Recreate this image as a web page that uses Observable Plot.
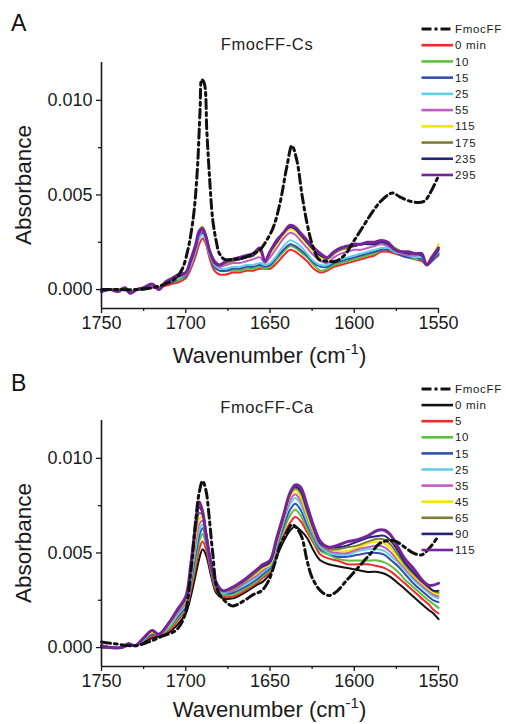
<!DOCTYPE html>
<html>
<head>
<meta charset="utf-8">
<script src="https://cdn.jsdelivr.net/npm/d3@7"></script>
<script src="https://cdn.jsdelivr.net/npm/@observablehq/plot@0.6"></script>
<style>
  html, body { margin: 0; padding: 0; background: #fff; }
  #wrap { width: 506px; }
  #wrap svg { display: block; }
</style>
</head>
<body>
<div id="wrap"></div>
<script>
// ---------------- data (absorbance values in units of 0.001) ----------------
const UNIT = 0.001;

const xMajorTicks = [1750, 1700, 1650, 1600, 1550];
const xMinorTicks = [1725, 1675, 1625, 1575];
const yMajorTicks = [0.000, 0.005, 0.010];
const yMinorTicks = [0.0025, 0.0075];

const xLabelMain = "Wavenumber (cm";
const xLabelSup = "-1";
const xLabelEnd = ")";
const yLabel = "Absorbance";

// ---- Panel A : FmocFF-Cs ----
const titleA = "FmocFF-Cs";
const tagA = "A";
const legendA = ["FmocFF", "0 min", "10", "15", "25", "55", "115", "175", "235", "295"];
const colorsA = ["#111111", "#f02a2a", "#5cbf3e", "#2f50b0", "#62cfe6", "#c25cc4", "#f2e600", "#7f7d35", "#25257e", "#74259a"];

const wDashA = [1750,1740,1730,1720,1712,1706,1702,1699,1697,1695,
                1693,1691.5,1690.5,1689,1687.5,1686,1684,1682,1680,1677,
                1672,1665,1660,1656,1652,1648,1644,1640,1637,1634,
                1631,1628,1625,1621,1616,1611,1606,1600,1595,1590,
                1585,1580,1577,1573,1568,1562,1558,1555,1550];
const vDashA = [0.0,0.0,0.0,0.1,0.3,0.6,1.1,2.0,2.9,4.2,
                6.5,9.5,11.1,10.9,8.4,6.1,3.7,2.6,1.9,1.6,
                1.6,1.7,1.9,2.1,2.6,3.3,4.6,6.5,7.6,6.8,
                5.0,3.5,2.4,1.6,1.5,1.5,1.8,2.6,3.3,4.0,
                4.6,5.0,5.1,4.9,4.7,4.6,4.7,5.1,6.0];

const wA = [1750,1745,1740,1736,1733,1729,1725,1720,1716,1712,
            1708,1704,1700,1697,1694,1692,1690,1688,1686,1683,
            1680,1676,1672,1668,1664,1660,1656,1653,1650,1646,
            1642,1638,1635,1632,1628,1624,1620,1616,1612,1608,
            1604,1600,1596,1592,1588,1584,1580,1576,1572,1568,
            1564,1560,1557,1554,1550];
const a0 = [-0.1,0.0,0.0,0.0,-0.1,0.0,0.0,0.1,0.1,0.2,
            0.3,0.4,0.6,1.1,1.8,2.4,2.7,2.4,1.7,1.0,
            0.8,0.8,0.9,0.9,1.0,1.0,1.1,1.1,1.1,1.4,
            1.8,2.1,2.0,1.8,1.5,1.1,0.9,1.0,1.2,1.3,
            1.4,1.5,1.6,1.7,1.8,2.0,2.0,1.9,1.8,1.7,
            1.6,1.5,1.3,1.5,1.8];
const a10 = [-0.1,0.0,0.0,0.0,-0.1,0.0,0.0,0.2,0.1,0.3,
             0.4,0.5,0.7,1.3,2.1,2.8,3.0,2.6,1.9,1.2,
             1.0,1.0,1.0,1.0,1.1,1.1,1.2,1.1,1.2,1.6,
             2.0,2.3,2.2,2.0,1.7,1.3,1.0,1.1,1.3,1.4,
             1.5,1.6,1.7,1.8,1.9,2.1,2.1,2.0,1.8,1.7,
             1.6,1.6,1.3,1.5,1.9];
const a15 = [-0.1,0.0,0.0,0.0,-0.2,0.0,0.0,0.2,0.0,0.3,
             0.4,0.6,0.7,1.3,2.1,2.8,3.0,2.6,1.9,1.2,
             1.0,1.0,1.1,1.1,1.2,1.2,1.3,1.2,1.3,1.7,
             2.1,2.4,2.3,2.1,1.8,1.4,1.2,1.2,1.4,1.5,
             1.6,1.7,1.8,1.9,2.0,2.1,2.1,2.0,1.8,1.7,
             1.7,1.6,1.3,1.5,1.9];
const a25 = [-0.1,0.0,0.0,0.0,-0.1,0.0,0.1,0.2,0.1,0.3,
             0.5,0.6,0.8,1.3,2.1,2.7,2.9,2.6,1.9,1.3,
             1.1,1.1,1.2,1.2,1.3,1.3,1.4,1.3,1.4,1.8,
             2.3,2.6,2.5,2.3,1.9,1.5,1.3,1.3,1.5,1.6,
             1.7,1.8,1.9,2.0,2.1,2.2,2.2,2.0,1.9,1.8,
             1.7,1.7,1.3,1.6,2.0];
const a55 = [-0.1,0.0,0.0,0.1,-0.1,0.0,0.1,0.2,0.1,0.3,
             0.5,0.7,0.8,1.4,2.2,2.9,3.1,2.7,2.0,1.4,
             1.2,1.3,1.4,1.4,1.5,1.6,1.7,1.4,1.7,2.2,
             2.7,3.0,2.9,2.6,2.2,1.8,1.5,1.4,1.7,1.9,
             2.0,2.1,2.1,2.2,2.3,2.4,2.3,2.1,1.9,1.8,
             1.8,1.8,1.3,1.6,2.1];
const a115 = [-0.1,0.0,0.0,0.1,-0.1,0.0,0.1,0.3,0.1,0.4,
              0.5,0.7,0.9,1.5,2.4,3.1,3.3,2.8,2.1,1.4,
              1.3,1.4,1.5,1.6,1.7,1.8,2.0,1.5,1.9,2.4,
              2.9,3.2,3.1,2.8,2.4,2.0,1.7,1.6,1.9,2.1,
              2.2,2.3,2.4,2.5,2.5,2.6,2.5,2.2,2.0,1.9,
              1.9,1.9,1.4,1.7,2.4];
const a175 = [-0.1,0.0,0.0,0.1,-0.1,0.0,0.1,0.3,0.1,0.4,
              0.5,0.7,0.9,1.5,2.4,3.1,3.3,2.8,2.1,1.4,
              1.3,1.4,1.5,1.6,1.7,1.8,2.1,1.5,2.0,2.5,
              3.0,3.3,3.2,2.9,2.5,2.1,1.8,1.6,1.9,2.1,
              2.2,2.3,2.4,2.5,2.5,2.6,2.5,2.2,2.0,1.9,
              1.9,1.8,1.3,1.6,2.2];
const a235 = [-0.1,0.0,-0.1,0.1,-0.2,0.0,0.1,0.3,0.0,0.4,
              0.6,0.7,0.9,1.5,2.3,3.0,3.2,2.8,2.1,1.4,
              1.3,1.5,1.6,1.6,1.7,1.8,2.1,1.5,2.0,2.5,
              3.0,3.3,3.2,2.9,2.5,2.1,1.8,1.7,2.0,2.2,
              2.3,2.3,2.4,2.4,2.4,2.5,2.4,2.1,2.0,1.9,
              1.9,1.8,1.3,1.6,2.1];
const a295 = [-0.1,0.0,-0.1,0.1,-0.2,0.0,0.1,0.3,0.0,0.4,
              0.6,0.8,0.9,1.6,2.4,3.1,3.2,2.8,2.1,1.5,
              1.3,1.5,1.6,1.7,1.8,1.9,2.2,1.5,2.0,2.6,
              3.0,3.4,3.3,3.0,2.6,2.2,1.9,1.7,2.0,2.2,
              2.3,2.4,2.4,2.5,2.5,2.6,2.5,2.1,2.0,2.0,
              1.9,1.9,1.3,1.7,2.2];
const seriesA = [a0, a10, a15, a25, a55, a115, a175, a235, a295];

// ---- Panel B : FmocFF-Ca ----
const titleB = "FmocFF-Ca";
const tagB = "B";
const legendB = ["FmocFF", "0 min", "5", "10", "15", "25", "35", "45", "65", "90", "115"];
const colorsB = ["#111111", "#111111", "#f02a2a", "#5cbf3e", "#2f50b0", "#62cfe6", "#c25cc4", "#f2e600", "#7f7d35", "#25257e", "#74259a"];

const wDashB = [1750,1742,1730,1722,1714,1706,1701,1697,1694,1692,
                1690,1688,1686,1684,1681,1676,1672,1665,1660,1655,
                1651,1647,1644,1640,1637,1634,1631,1628,1625,1620,
                1615,1610,1605,1600,1595,1590,1585,1580,1575,1570,
                1565,1560,1555,1550];
const vDashB = [0.3,0.2,0.1,0.3,0.6,0.9,1.6,4.0,6.8,8.2,
                8.8,8.3,6.8,5.0,3.0,2.4,2.2,2.5,2.8,3.0,
                3.5,4.5,5.4,6.1,6.5,6.3,5.8,4.6,3.7,3.0,
                2.75,3.0,3.5,4.0,4.5,5.0,5.5,5.65,5.6,5.3,
                5.0,4.9,5.3,5.9];

const wB = [1750,1744,1738,1734,1730,1725,1720,1716,1710,1705,
            1700,1697,1694,1692,1690,1688,1685,1682,1678,1672,
            1665,1658,1654,1650,1646,1642,1638,1635,1632,1628,
            1624,1620,1615,1610,1604,1598,1592,1586,1582,1578,
            1574,1570,1565,1560,1556,1553,1550];
const b0 = [0.1,0.0,0.0,0.1,0.1,0.3,0.5,0.6,0.8,1.2,
            1.8,2.7,3.9,4.7,5.2,4.9,3.8,2.9,2.6,2.6,
            2.9,3.3,3.5,3.9,4.8,5.6,6.2,6.4,6.2,5.8,
            5.1,4.6,4.4,4.3,4.2,4.1,4.0,4.0,3.9,3.7,
            3.4,3.1,2.7,2.3,2.0,1.8,1.5];
const b5 = [0.1,0.0,0.0,0.2,0.1,0.4,0.6,0.7,0.9,1.4,
            2.0,3.0,4.3,5.2,5.6,5.2,4.0,3.0,2.7,2.7,
            3.0,3.4,3.7,4.0,5.0,5.9,6.6,6.9,6.7,6.1,
            5.5,4.9,4.7,4.6,4.4,4.4,4.4,4.3,4.2,4.0,
            3.7,3.4,3.0,2.6,2.3,2.0,1.8];
const b10 = [0.1,0.0,0.0,0.2,0.1,0.4,0.7,0.7,1.0,1.5,
             2.1,3.2,4.6,5.6,6.0,5.5,4.1,3.1,2.8,2.8,
             3.1,3.5,3.8,4.1,5.2,6.2,7.0,7.3,7.0,6.3,
             5.6,5.1,4.9,4.7,4.6,4.6,4.6,4.6,4.5,4.3,
             4.0,3.6,3.2,2.8,2.5,2.3,2.1];
const b15 = [0.1,0.0,0.0,0.2,0.1,0.4,0.7,0.7,1.1,1.6,
             2.2,3.4,5.0,5.9,6.3,5.7,4.2,3.2,2.9,2.9,
             3.2,3.6,3.9,4.2,5.3,6.4,7.3,7.6,7.3,6.5,
             5.8,5.2,5.0,4.8,4.8,4.9,5.0,5.0,4.9,4.6,
             4.3,3.9,3.4,3.0,2.7,2.5,2.4];
const b25 = [0.0,0.0,0.0,0.2,0.1,0.4,0.8,0.7,1.1,1.7,
             2.3,3.6,5.3,6.2,6.5,5.8,4.3,3.3,2.9,3.0,
             3.3,3.7,4.0,4.3,5.4,6.6,7.6,7.9,7.6,6.7,
             5.9,5.3,5.0,4.9,4.9,5.1,5.2,5.2,5.1,4.8,
             4.5,4.1,3.6,3.2,2.9,2.7,2.6];
const b35 = [0.0,0.0,0.0,0.2,0.1,0.5,0.8,0.7,1.2,1.8,
             2.4,3.8,5.6,6.5,6.7,5.9,4.3,3.3,3.0,3.0,
             3.4,3.8,4.1,4.4,5.5,6.7,7.8,8.1,7.8,6.9,
             6.0,5.4,5.1,5.0,5.0,5.2,5.3,5.4,5.3,5.0,
             4.6,4.2,3.7,3.3,3.0,2.8,2.7];
const b45 = [0.0,0.0,0.0,0.2,0.1,0.5,0.8,0.7,1.2,1.9,
             2.5,4.0,5.9,6.8,6.9,6.0,4.4,3.4,3.0,3.1,
             3.5,3.9,4.2,4.4,5.6,6.8,8.0,8.3,8.0,7.0,
             6.1,5.5,5.2,5.1,5.1,5.3,5.5,5.6,5.5,5.2,
             4.7,4.3,3.8,3.4,3.1,2.9,2.8];
const b65 = [0.0,0.0,0.0,0.2,0.1,0.5,0.9,0.7,1.3,1.9,
             2.6,4.2,6.2,7.1,7.0,6.1,4.5,3.5,3.0,3.1,
             3.5,4.0,4.3,4.5,5.7,6.9,8.1,8.4,8.2,7.2,
             6.2,5.5,5.2,5.2,5.3,5.4,5.6,5.75,5.7,5.4,
             4.9,4.4,3.9,3.5,3.2,3.0,2.9];
const b90 = [0.0,0.0,0.0,0.2,0.1,0.5,0.9,0.7,1.3,2.0,
             2.6,4.3,6.4,7.4,7.1,6.1,4.5,3.5,3.0,3.2,
             3.6,4.1,4.3,4.5,5.7,6.9,8.2,8.5,8.3,7.3,
             6.3,5.5,5.3,5.3,5.4,5.6,5.8,5.9,5.9,5.6,
             5.1,4.5,4.0,3.5,3.2,3.0,3.0];
const b115 = [0.1,0.0,0.0,0.2,0.1,0.5,0.9,0.7,1.3,2.0,
              2.7,4.4,6.6,7.7,7.2,6.0,4.4,3.4,3.0,3.2,
              3.6,4.1,4.4,4.6,5.8,7.0,8.2,8.6,8.5,7.5,
              6.4,5.6,5.3,5.4,5.6,5.7,5.9,6.2,6.2,5.9,
              5.3,4.7,4.2,3.6,3.3,3.3,3.4];
const seriesB = [b0, b5, b10, b15, b25, b35, b45, b65, b90, b115];

// ---------------- drawing ----------------
const FONT = "'Liberation Sans', Arial, Helvetica, sans-serif";
const DASH = "9,4,3,4";

function rows(ws, vs, name) {
  return ws.map((w, i) => ({ w, v: vs[i] * UNIT, name }));
}

function panel(cfg) {
  const lineMarks = [];
  cfg.series.forEach((vals, k) => {
    const last = k === cfg.series.length - 1;
    lineMarks.push(Plot.line(rows(cfg.grid, vals, cfg.legend[k + 1]), {
      x: "w", y: "v",
      stroke: cfg.colors[k + 1],
      strokeWidth: last ? 3 : 2,
      curve: "catmull-rom"
    }));
  });
  const dashMark = Plot.line(rows(cfg.dashW, cfg.dashV, cfg.legend[0]), {
    x: "w", y: "v", stroke: cfg.colors[0], strokeWidth: 3,
    strokeDasharray: DASH, curve: "catmull-rom"
  });

  const svgEl = Plot.plot({
    width: 506, height: cfg.H,
    marginLeft: 101, marginRight: 68, marginTop: cfg.mt, marginBottom: cfg.mb,
    style: { fontFamily: FONT, background: "#fff", color: "#1a1a1a" },
    x: { domain: [1750, 1550] },
    y: { domain: [-0.001, 0.012] },
    marks: [
      ...lineMarks,
      dashMark,
      Plot.ruleX([1750], { stroke: "#1a1a1a", strokeWidth: 1.6 }),
      Plot.ruleY([-0.001], { stroke: "#1a1a1a", strokeWidth: 1.6 }),
      Plot.axisX(xMinorTicks, { tickSize: 3, text: null, label: null, strokeWidth: 1.3 }),
      Plot.axisX(xMajorTicks, { tickSize: 5, tickPadding: 3, fontSize: 18, label: null,
                               tickFormat: d => String(d), strokeWidth: 1.3 }),
      Plot.axisY(yMinorTicks, { tickSize: 3, text: null, label: null, strokeWidth: 1.3 }),
      Plot.axisY(yMajorTicks, { tickSize: 5, tickPadding: 4, fontSize: 18, label: null,
                               tickFormat: d3.format(".3f"), strokeWidth: 1.3 })
    ]
  });

  const svg = d3.select(svgEl);
  const plotMidY = (cfg.mt + (cfg.H - cfg.mb)) / 2;

  // panel tag
  svg.append("text").attr("x", 11).attr("y", cfg.tagY)
    .attr("text-anchor", "start")
    .style("font-family", FONT).style("font-size", "23px").attr("fill", "#111")
    .text(cfg.tag);
  // title
  svg.append("text").attr("x", 267).attr("y", cfg.titleY)
    .attr("text-anchor", "middle")
    .style("font-family", FONT).style("font-size", "16.5px").style("letter-spacing", "0.6px")
    .attr("fill", "#222").text(cfg.title);
  // y label
  svg.append("text")
    .attr("transform", `translate(31,${plotMidY}) rotate(-90)`)
    .attr("text-anchor", "middle")
    .style("font-family", FONT).style("font-size", "22.5px").attr("fill", "#1a1a1a")
    .text(yLabel);
  // x label with superscript
  const xl = svg.append("text").attr("x", 269.5).attr("y", cfg.xLabelY)
    .attr("text-anchor", "middle")
    .style("font-family", FONT).style("font-size", "22px").attr("fill", "#1a1a1a");
  xl.append("tspan").text(xLabelMain);
  xl.append("tspan").attr("dy", -9).style("font-size", "15px").text(xLabelSup);
  xl.append("tspan").attr("dy", 9).text(xLabelEnd);

  // legend
  const lg = svg.append("g").attr("text-anchor", "start");
  cfg.legend.forEach((lab, i) => {
    const y = cfg.legY0 + i * cfg.legDy;
    const isDash = i === 0;
    lg.append("line").attr("x1", 421.5).attr("x2", 453).attr("y1", y).attr("y2", y)
      .attr("stroke", cfg.colors[i]).attr("stroke-width", isDash ? 3 : 2.6)
      .attr("stroke-dasharray", isDash ? "10,3,3,3" : null);
    lg.append("text").attr("x", 455).attr("y", y).attr("dy", "0.36em")
      .attr("text-anchor", "start")
      .style("font-family", FONT).style("font-size", "11.5px").style("letter-spacing", "0.7px")
      .attr("fill", "#1a1a1a").text(lab);
  });

  return svgEl;
}

const wrap = document.getElementById("wrap");
wrap.appendChild(panel({
  H: 368, mt: 62, mb: 60,
  grid: wA, series: seriesA, dashW: wDashA, dashV: vDashA,
  legend: legendA, colors: colorsA, legY0: 29, legDy: 16.22,
  tag: tagA, tagY: 31, title: titleA, titleY: 50, xLabelY: 363
}));
wrap.appendChild(panel({
  H: 356, mt: 52, mb: 58,
  grid: wB, series: seriesB, dashW: wDashB, dashV: vDashB,
  legend: legendB, colors: colorsB, legY0: 21, legDy: 16.1,
  tag: tagB, tagY: 23, title: titleB, titleY: 45, xLabelY: 349
}));
</script>
</body>
</html>
